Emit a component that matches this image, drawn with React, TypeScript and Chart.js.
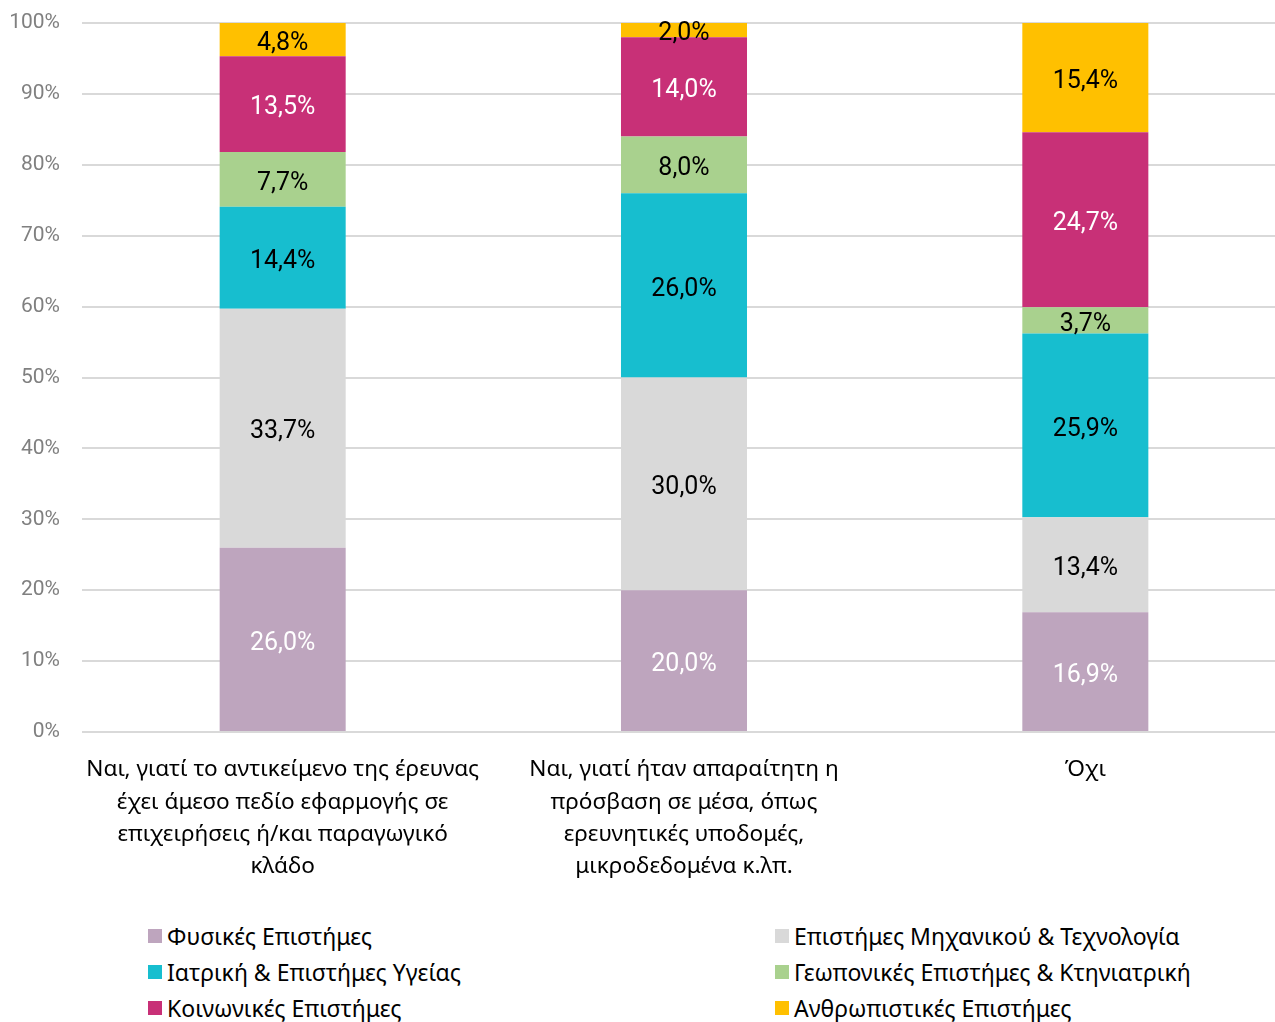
import React, { useEffect, useRef } from "react";
import { Chart, registerables } from "chart.js";

Chart.register(...registerables);

const categories: string[][] = [
  ["Ναι, γιατί το αντικείμενο της έρευνας", "έχει άμεσο πεδίο εφαρμογής σε", "επιχειρήσεις ή/και παραγωγικό", "κλάδο"],
  ["Ναι, γιατί ήταν απαραίτητη η", "πρόσβαση σε μέσα, όπως", "ερευνητικές υποδομές,", "μικροδεδομένα κ.λπ."],
  ["Όχι"],
];

const seriesNames = [
  "Φυσικές Επιστήμες",
  "Επιστήμες Μηχανικού & Τεχνολογία",
  "Ιατρική & Επιστήμες Υγείας",
  "Γεωπονικές Επιστήμες & Κτηνιατρική",
  "Κοινωνικές Επιστήμες",
  "Ανθρωπιστικές Επιστήμες",
];

const physical = [26.0, 20.0, 16.9];
const engineering = [33.7, 30.0, 13.4];
const medical = [14.4, 26.0, 25.9];
const agricultural = [7.7, 8.0, 3.7];
const social = [13.5, 14.0, 24.7];
const humanities = [4.8, 2.0, 15.4];

const seriesValues = [physical, engineering, medical, agricultural, social, humanities];
const seriesColors = ["#BEA5BE", "#D9D9D9", "#17BECF", "#A9D18E", "#C83077", "#FFC000"];
const labelColors = ["#FFFFFF", "#000000", "#000000", "#000000", "#FFFFFF", "#000000"];

const yTicks = [0, 10, 20, 30, 40, 50, 60, 70, 80, 90, 100];

const LABEL_FONT = 'Roboto, sans-serif';
const TEXT_FONT = '"Noto Sans", sans-serif';

const valueLabelPlugin = {
  id: "valueLabels",
  afterDatasetsDraw(chart: any) {
    const ctx = chart.ctx;
    ctx.save();
    ctx.font = `25px ${LABEL_FONT}`;
    ctx.textAlign = "center";
    ctx.textBaseline = "middle";
    chart.data.datasets.forEach((ds: any, di: number) => {
      const meta = chart.getDatasetMeta(di);
      meta.data.forEach((bar: any, i: number) => {
        const v = ds.data[i];
        const top = Math.max(bar.y, chart.chartArea.top);
        const y = (top + bar.base) / 2;
        ctx.fillStyle = labelColors[di];
        ctx.fillText(v.toFixed(1).replace(".", ",") + "%", bar.x, y + 4);
      });
    });
    ctx.restore();
  },
};

function LegendItem({ name, color }: { name: string; color: string }) {
  return (
    <div style={{ display: "flex", alignItems: "center", height: 36 }}>
      <span style={{ display: "inline-block", width: 14, height: 14, background: color, marginRight: 5 }} />
      <span style={{ fontFamily: TEXT_FONT, fontSize: 23, color: "#000", whiteSpace: "nowrap" }}>{name}</span>
    </div>
  );
}

export default function App() {
  const ref = useRef<HTMLCanvasElement | null>(null);

  useEffect(() => {
    if (!ref.current) return;
    const chart = new Chart(ref.current, {
      type: "bar",
      data: {
        labels: categories,
        datasets: seriesNames.map((name, i) => ({
          label: name,
          data: seriesValues[i],
          backgroundColor: seriesColors[i],
          borderWidth: 0,
        })),
      },
      options: {
        animation: false,
        responsive: false,
        maintainAspectRatio: false,
        layout: { padding: { top: 23, right: 0, left: 0, bottom: 0 } },
        datasets: { bar: { categoryPercentage: 1, barPercentage: 0.314 } },
        plugins: {
          legend: { display: false },
          tooltip: { enabled: false },
        },
        scales: {
          x: {
            stacked: true,
            grid: { display: false, drawTicks: false },
            border: { display: false },
            ticks: {
              color: "#000",
              font: { family: TEXT_FONT, size: 22.6, lineHeight: 1.42 },
              padding: 22,
              maxRotation: 0,
              autoSkip: false,
            },
            afterFit: (s: any) => {
              s.height = 890 - 732;
              s.paddingLeft = 0;
              s.paddingRight = 0;
            },
          },
          y: {
            stacked: true,
            min: 0,
            max: 100,
            afterBuildTicks: (s: any) => {
              s.ticks = yTicks.map((v) => ({ value: v }));
            },
            grid: { color: "#D9D9D9", lineWidth: 2, drawTicks: false },
            border: { display: false },
            ticks: {
              color: "#808080",
              font: { family: LABEL_FONT, size: 21 },
              padding: 22,
              callback: (v: any) => v + "%",
            },
            afterFit: (s: any) => {
              s.width = 82;
              s.paddingTop = 0;
              s.paddingBottom = 0;
            },
          },
        },
      },
      plugins: [valueLabelPlugin],
    });
    return () => chart.destroy();
  }, []);

  return (
    <div style={{ position: "absolute", left: 0, top: 0, width: 1275, height: 1022, background: "#fff", overflow: "hidden" }}>
      <canvas ref={ref} width={1286} height={890} style={{ display: "block" }} />
      <div style={{ position: "absolute", left: 148, top: 918 }}>
        {[0, 2, 4].map((i) => (
          <LegendItem key={i} name={seriesNames[i]} color={seriesColors[i]} />
        ))}
      </div>
      <div style={{ position: "absolute", left: 775, top: 918 }}>
        {[1, 3, 5].map((i) => (
          <LegendItem key={i} name={seriesNames[i]} color={seriesColors[i]} />
        ))}
      </div>
    </div>
  );
}
